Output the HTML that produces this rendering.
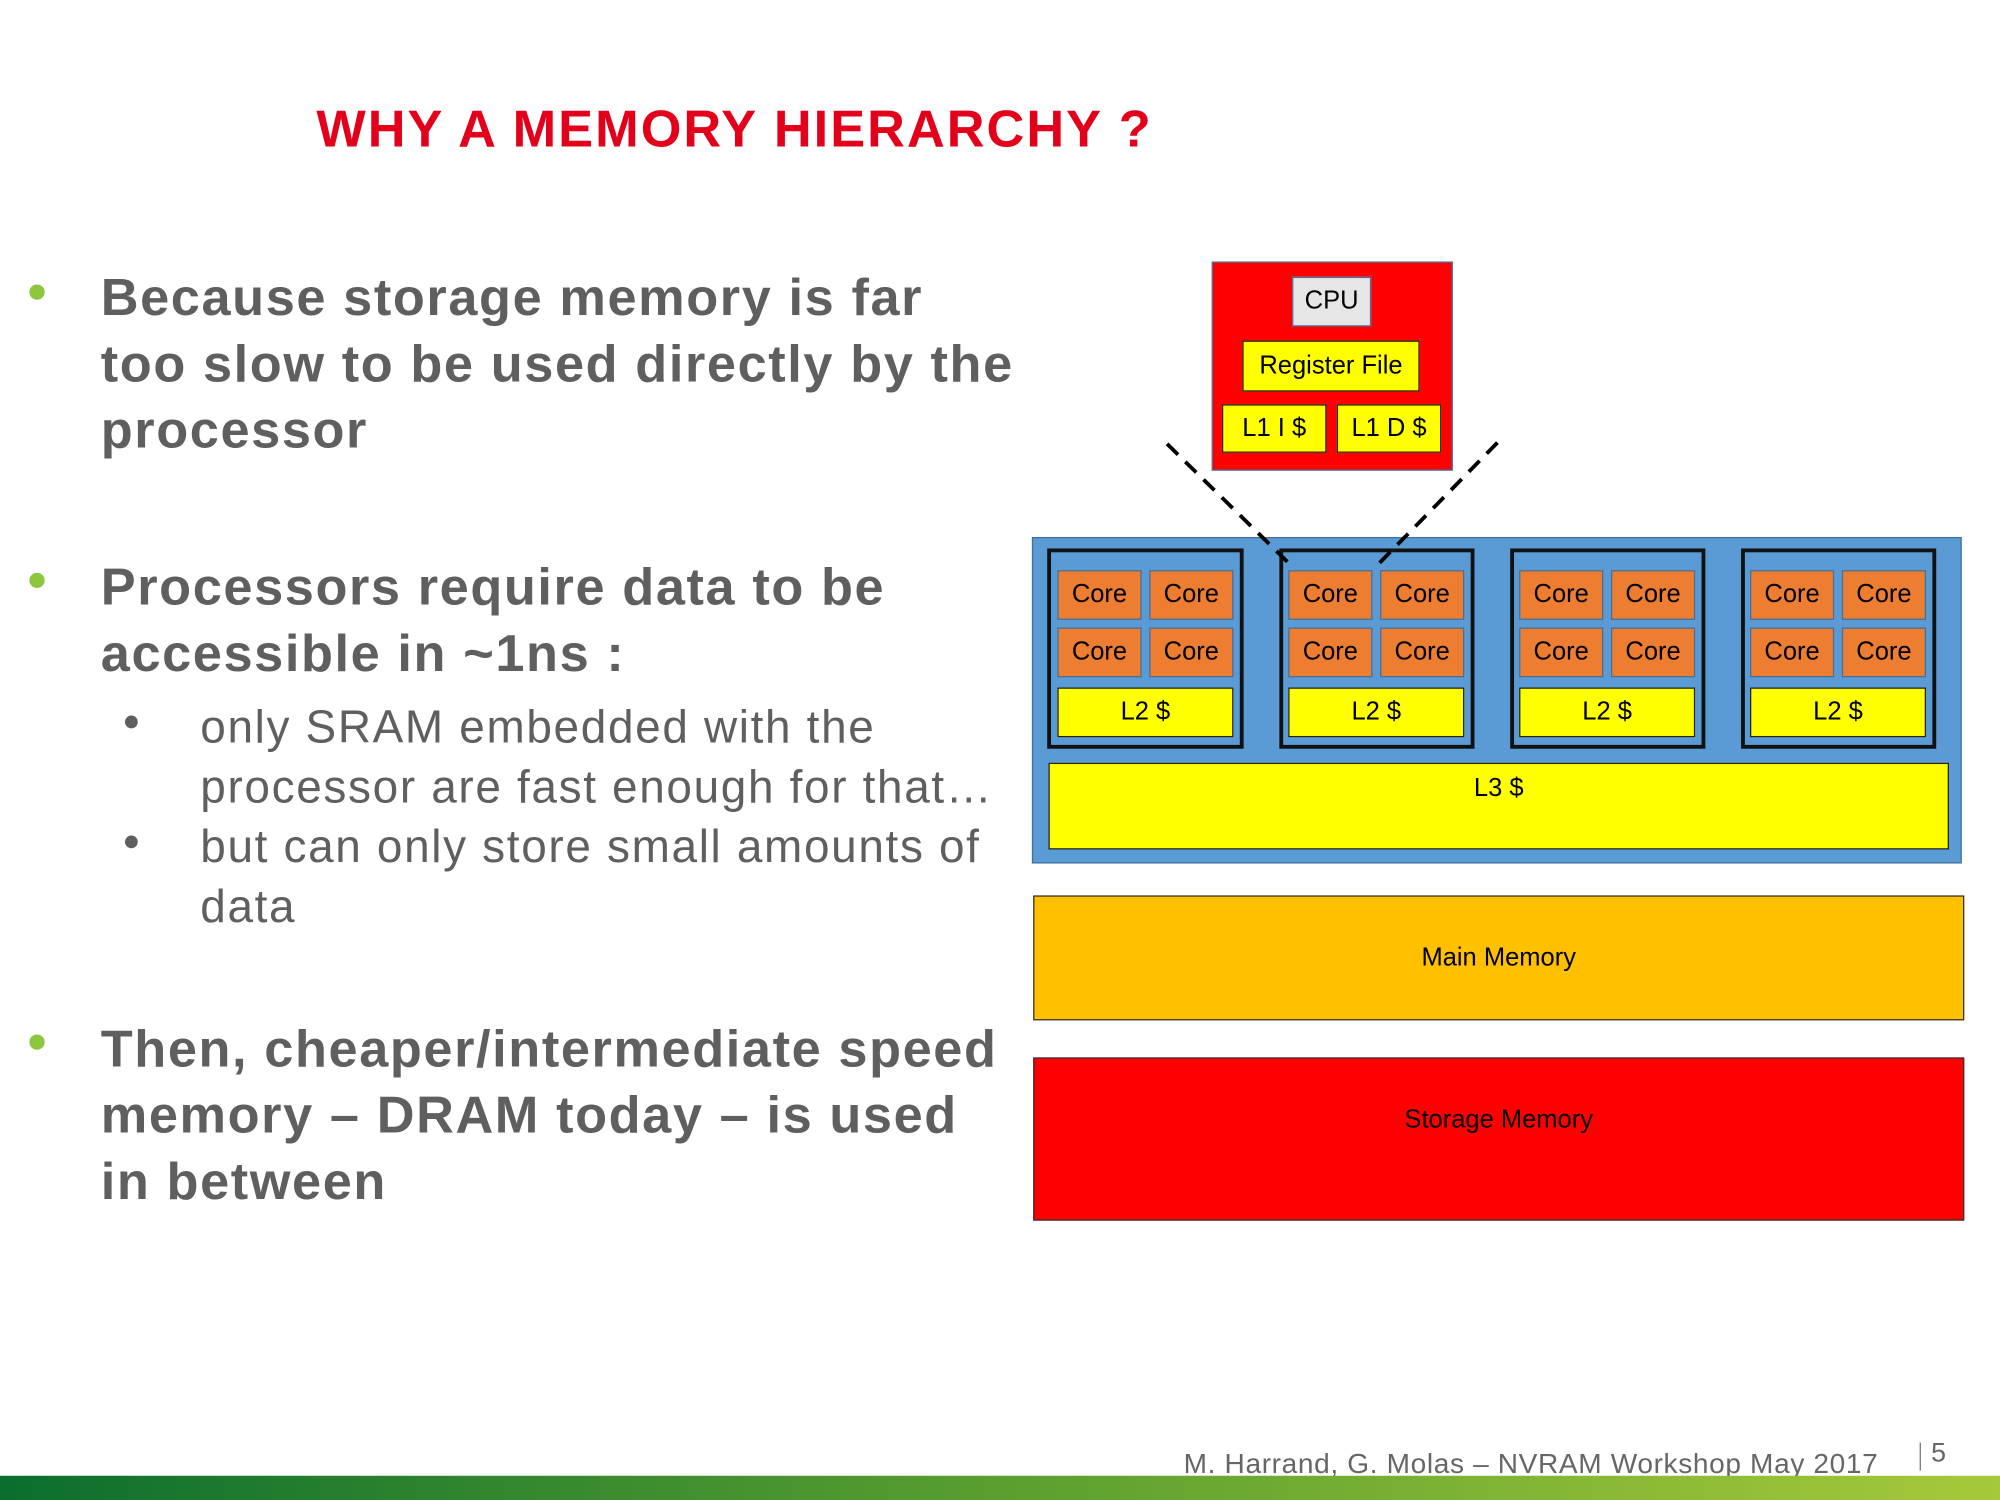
<!DOCTYPE html>
<html><head><meta charset="utf-8"><style>
html,body{margin:0;padding:0;background:#fff;overflow:hidden;}
body{width:2000px;height:1500px;position:relative;}
#w{position:absolute;left:0;top:0;width:1568px;height:1176px;transform:scale(1.27551);transform-origin:0 0;font-family:"Liberation Sans",sans-serif;}
.a{position:absolute;box-sizing:border-box;}
.t{position:absolute;white-space:nowrap;}
.b{font-weight:bold;font-size:41px;color:#5f5f5f;line-height:52px;letter-spacing:1.25px;}
.s{font-size:36px;color:#5f5f5f;line-height:47px;letter-spacing:1.3px;}
.dot{position:absolute;width:12px;height:12px;border-radius:50%;background:#8dc63f;}
.sdot{position:absolute;width:10px;height:10px;border-radius:50%;background:#5f5f5f;}
.bx{position:absolute;box-sizing:border-box;display:flex;align-items:center;justify-content:center;font-size:20px;color:#000;}
.core{background:#ed7d31;border:1px solid #41719c;}
.y{background:#ffff00;border:1.5px solid #222;}
.cl{position:absolute;box-sizing:border-box;border:3px solid #111;background:#5b9bd5;}
</style></head><body><div id="w">
<div class="t" style="left:248px;top:78px;font-size:41px;font-weight:bold;color:#e3001b;letter-spacing:1.6px">WHY A MEMORY HIERARCHY ?</div>

<div class="dot" style="left:23px;top:223px"></div>
<div class="t b" style="left:79px;top:207px">Because storage memory is far<br>too slow to be used directly by the<br>processor</div>
<div class="dot" style="left:23px;top:449px"></div>
<div class="t b" style="left:79px;top:434px">Processors require data to be<br>accessible in ~1ns :</div>
<div class="sdot" style="left:98px;top:561px"></div>
<div class="sdot" style="left:98px;top:655px"></div>
<div class="t s" style="left:157px;top:546px">only SRAM embedded with the<br>processor are fast enough for that…<br>but can only store small amounts of<br>data</div>
<div class="dot" style="left:23px;top:811px"></div>
<div class="t b" style="left:79px;top:796px">Then, cheaper/intermediate speed<br>memory – DRAM today – is used<br>in between</div>

<!-- CPU -->
<div class="a" style="left:950px;top:205px;width:189px;height:164px;background:#ff0000;border:1px solid #41719c"></div>
<div class="bx" style="left:1013px;top:217px;width:62px;height:39px;background:#e7e6e6;border:1px solid #41719c">CPU</div>
<div class="bx y" style="left:974px;top:267px;width:139px;height:40px">Register File</div>
<div class="bx y" style="left:958px;top:317px;width:82px;height:38px">L1 I $</div>
<div class="bx y" style="left:1048px;top:317px;width:82px;height:38px">L1 D $</div>

<!-- blue -->
<div class="a" style="left:809px;top:421px;width:729px;height:256px;background:#5b9bd5;border:1px solid #41719c"></div>
<div class="cl" style="left:821px;top:430px;width:154px;height:157px"></div>
<div class="cl" style="left:1003px;top:430px;width:153px;height:157px"></div>
<div class="cl" style="left:1184px;top:430px;width:153px;height:157px"></div>
<div class="cl" style="left:1365px;top:430px;width:153px;height:157px"></div>

<div class="bx core" style="left:829px;top:447px;width:66px;height:39px">Core</div>
<div class="bx core" style="left:901px;top:447px;width:66px;height:39px">Core</div>
<div class="bx core" style="left:829px;top:492px;width:66px;height:39px">Core</div>
<div class="bx core" style="left:901px;top:492px;width:66px;height:39px">Core</div>
<div class="bx y" style="left:829px;top:539px;width:138px;height:39px">L2 $</div>

<div class="bx core" style="left:1010px;top:447px;width:66px;height:39px">Core</div>
<div class="bx core" style="left:1082px;top:447px;width:66px;height:39px">Core</div>
<div class="bx core" style="left:1010px;top:492px;width:66px;height:39px">Core</div>
<div class="bx core" style="left:1082px;top:492px;width:66px;height:39px">Core</div>
<div class="bx y" style="left:1010px;top:539px;width:138px;height:39px">L2 $</div>

<div class="bx core" style="left:1191px;top:447px;width:66px;height:39px">Core</div>
<div class="bx core" style="left:1263px;top:447px;width:66px;height:39px">Core</div>
<div class="bx core" style="left:1191px;top:492px;width:66px;height:39px">Core</div>
<div class="bx core" style="left:1263px;top:492px;width:66px;height:39px">Core</div>
<div class="bx y" style="left:1191px;top:539px;width:138px;height:39px">L2 $</div>

<div class="bx core" style="left:1372px;top:447px;width:66px;height:39px">Core</div>
<div class="bx core" style="left:1444px;top:447px;width:66px;height:39px">Core</div>
<div class="bx core" style="left:1372px;top:492px;width:66px;height:39px">Core</div>
<div class="bx core" style="left:1444px;top:492px;width:66px;height:39px">Core</div>
<div class="bx y" style="left:1372px;top:539px;width:138px;height:39px">L2 $</div>

<div class="bx y" style="left:822px;top:598px;width:706px;height:68px;align-items:flex-start;padding-top:8px">L3 $</div>

<svg class="a" style="left:0;top:0" width="1568" height="1176">
<line x1="915" y1="348" x2="1015" y2="446" stroke="#000" stroke-width="3" stroke-dasharray="12,8"/>
<line x1="1174" y1="347" x2="1077" y2="446" stroke="#000" stroke-width="3" stroke-dasharray="12,8"/>
</svg>

<div class="bx" style="left:810px;top:702px;width:730px;height:98px;background:#ffc000;border:1px solid #333">Main Memory</div>
<div class="bx" style="left:810px;top:829px;width:730px;height:128px;background:#ff0000;border:1px solid #333;align-items:flex-start;padding-top:37px">Storage Memory</div>

<div class="t" style="left:928px;top:1135px;font-size:22px;color:#666;letter-spacing:0.5px">M. Harrand, G. Molas – NVRAM Workshop May 2017</div>
<div class="a" style="left:1505px;top:1131px;width:1px;height:22px;background:#777"></div>
<div class="t" style="left:1514px;top:1128px;font-size:21px;color:#666">5</div>
<div class="a" style="left:0;top:1157px;width:1568px;height:19px;background:linear-gradient(90deg,#0b6e2e,#5a9f2f 50%,#a6c93a)"></div>
</div></body></html>
